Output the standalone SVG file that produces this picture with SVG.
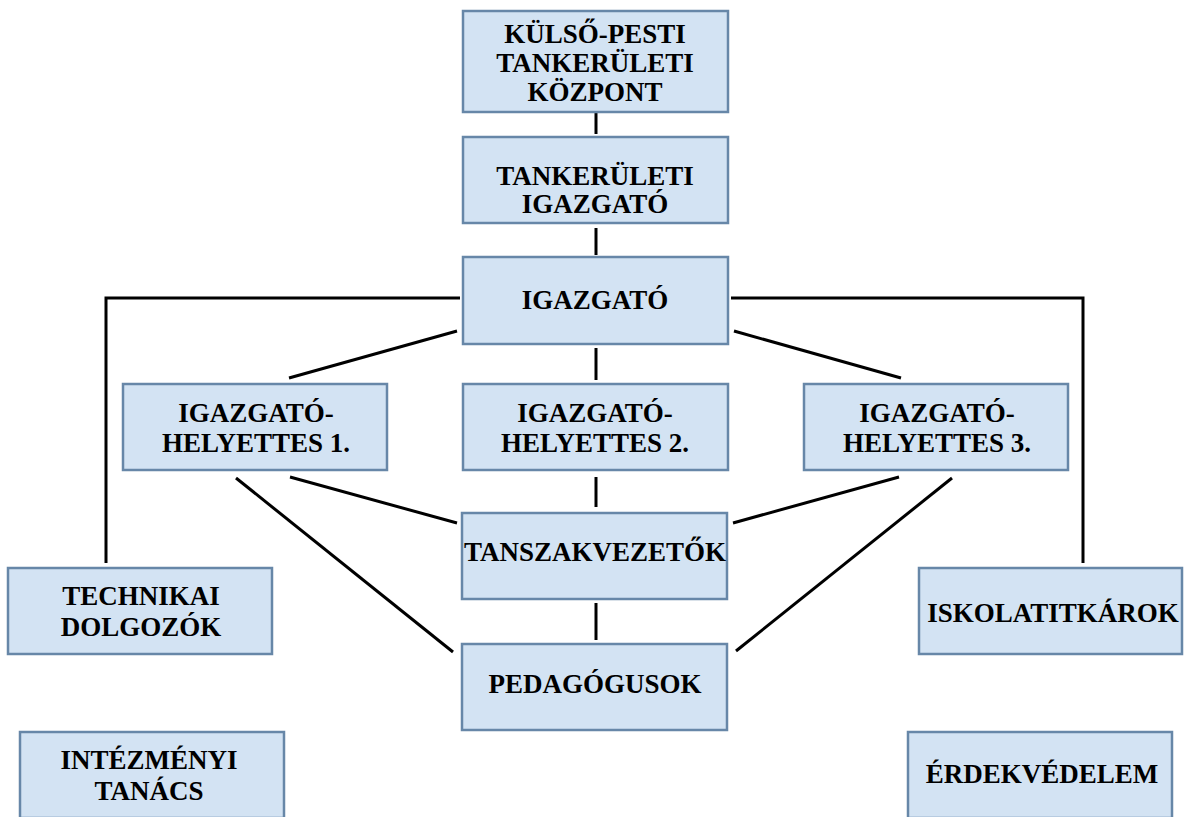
<svg xmlns="http://www.w3.org/2000/svg" width="1184" height="817" viewBox="0 0 1184 817">
<style>
.box{fill:#d3e3f3;stroke:#6787a8;stroke-width:2.5}
.t{font-family:"Liberation Serif","Times New Roman",serif;font-weight:bold;font-size:27px;fill:#000;text-anchor:middle}
.c{stroke:#000;stroke-width:3;fill:none}
</style>
<rect width="1184" height="817" fill="#fff"/>
<g id="connectors">
<line class="c" x1="596" y1="113" x2="596" y2="134"/>
<line class="c" x1="596" y1="228" x2="596" y2="255"/>
<polyline class="c" points="460,298 106,298 106,563"/>
<polyline class="c" points="731,298 1083,298 1083,563"/>
<line class="c" x1="457" y1="331" x2="289" y2="378"/>
<line class="c" x1="734" y1="331" x2="901" y2="378"/>
<line class="c" x1="596" y1="348" x2="596" y2="380"/>
<line class="c" x1="596" y1="477" x2="596" y2="507"/>
<line class="c" x1="596" y1="603" x2="596" y2="640"/>
<line class="c" x1="290" y1="477" x2="457" y2="523"/>
<line class="c" x1="236" y1="478" x2="453" y2="652"/>
<line class="c" x1="899" y1="477" x2="733" y2="523"/>
<line class="c" x1="952" y1="478" x2="736" y2="651"/>
</g>
<g id="kulso-pesti">
<rect class="box" x="463" y="11" width="265" height="101"/>
<text class="t" x="595" y="43">KÜLSŐ-PESTI</text>
<text class="t" x="595" y="72">TANKERÜLETI</text>
<text class="t" x="595" y="101">KÖZPONT</text>
</g>
<g id="tankeruleti-igazgato">
<rect class="box" x="463" y="137" width="265" height="86"/>
<text class="t" x="595" y="185">TANKERÜLETI</text>
<text class="t" x="595" y="213">IGAZGATÓ</text>
</g>
<g id="igazgato">
<rect class="box" x="463" y="257" width="265" height="87"/>
<text class="t" x="595" y="309">IGAZGATÓ</text>
</g>
<g id="ih1">
<rect class="box" x="123" y="384" width="264" height="86"/>
<text class="t" x="256" y="422">IGAZGATÓ-</text>
<text class="t" x="256" y="452">HELYETTES 1.</text>
</g>
<g id="ih2">
<rect class="box" x="463" y="384" width="265" height="86"/>
<text class="t" x="595" y="422">IGAZGATÓ-</text>
<text class="t" x="595" y="452">HELYETTES 2.</text>
</g>
<g id="ih3">
<rect class="box" x="804" y="384" width="264" height="86"/>
<text class="t" x="937" y="422">IGAZGATÓ-</text>
<text class="t" x="937" y="452">HELYETTES 3.</text>
</g>
<g id="tanszakvezetok">
<rect class="box" x="462" y="513" width="265" height="86"/>
<text class="t" x="595" y="561">TANSZAKVEZETŐK</text>
</g>
<g id="pedagogusok">
<rect class="box" x="462" y="644" width="265" height="86"/>
<text class="t" x="595" y="693">PEDAGÓGUSOK</text>
</g>
<g id="technikai">
<rect class="box" x="8" y="568" width="264" height="86"/>
<text class="t" x="141" y="605">TECHNIKAI</text>
<text class="t" x="141" y="636">DOLGOZÓK</text>
</g>
<g id="iskolatitkarok">
<rect class="box" x="919" y="568" width="263" height="86"/>
<text class="t" x="1053" y="622">ISKOLATITKÁROK</text>
</g>
<g id="intezmenyi">
<rect class="box" x="20" y="732" width="264" height="86"/>
<text class="t" x="149" y="769">INTÉZMÉNYI</text>
<text class="t" x="149" y="800">TANÁCS</text>
</g>
<g id="erdekvedelem">
<rect class="box" x="908" y="732" width="264" height="86"/>
<text class="t" x="1042" y="783">ÉRDEKVÉDELEM</text>
</g>
</svg>
